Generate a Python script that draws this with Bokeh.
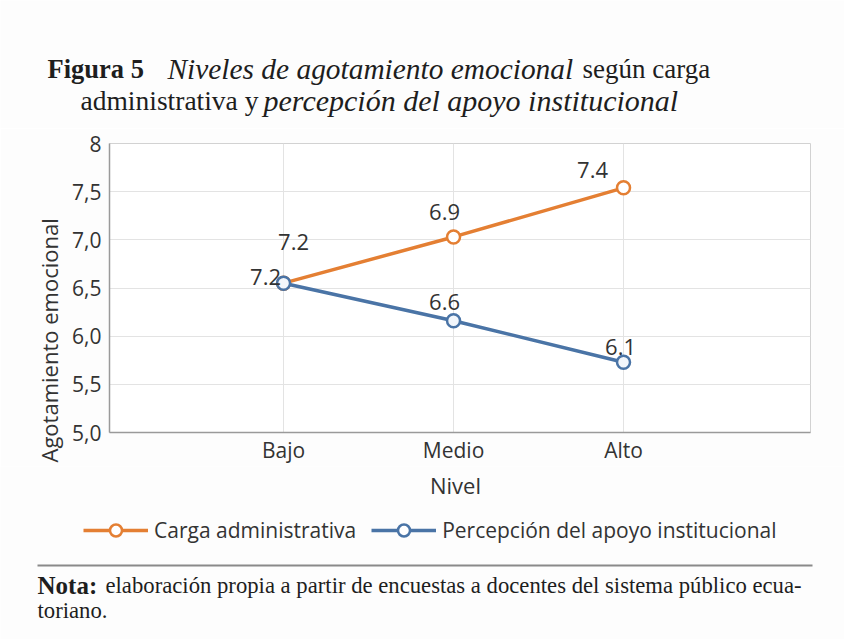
from bokeh.plotting import figure
from bokeh.layouts import column, row
from bokeh.models import (Range1d, FixedTicker, Label, LabelSet, ColumnDataSource,
                          Legend, LegendItem, BoxAnnotation, Title)
from bokeh.core.properties import value
from bokeh.embed import file_html
from bokeh.resources import INLINE

# ---------------- data ----------------
levels = ["Bajo", "Medio", "Alto"]
level_pos = [1, 2, 3]
carga = [6.55, 7.03, 7.54]
percepcion = [6.55, 6.16, 5.73]
carga_labels = ["7.2", "6.9", "7.4"]
percepcion_labels = ["7.2", "6.6", "6.1"]
y_ticks = [5.0, 5.5, 6.0, 6.5, 7.0, 7.5, 8.0]
y_tick_labels = ["5,0", "5,5", "6,0", "6,5", "7,0", "7,5", "8"]
series_names = ["Carga administrativa", "Percepción del apoyo institucional"]

# ---------------- styles / positions ----------------
ORANGE = "#e47f33"
BLUE = "#4a74a6"
TXT = "#333333"
PAGE = "#fdfdfd"
SANS = "Open Sans"
SERIF = "Liberation Serif"

carga_dx = [10, -9, -31]
carga_dy = [41, 25, 18]
perc_dx = [-18, -9, -3]
perc_dy = [6, 19, 15]

W = 844
H_HEAD, H_MID = 128, 338
H_FOOT = 639 - H_HEAD - H_MID
BASE_FIX = -8  # correction for alphabetic baseline placement


def blank(width, height, y0, y1):
    f = figure(width=width, height=height, x_range=Range1d(0, width),
               y_range=Range1d(y1, y0), output_backend="svg", toolbar_location=None,
               x_axis_location=None, y_axis_location=None,
               min_border=0, background_fill_color=PAGE, border_fill_color=PAGE)
    f.grid.visible = False
    f.outline_line_color = None
    return f


def lab(f, x, y, text, font=SERIF, size="27px", style="normal", align="left",
        baseline="alphabetic", color="#1e1e1e"):
    if baseline == "alphabetic":
        y = y + BASE_FIX
    f.add_layout(Label(x=x, y=y, text=text, text_font=font, text_font_size=size,
                       text_font_style=style, text_align=align, text_baseline=baseline,
                       text_color=color))


# ---------------- header (title) ----------------
head = blank(W, H_HEAD, 0, H_HEAD)
lab(head, 47, 76, "Figura 5", size="26.5px", style="bold")
lab(head, 167, 76, "Niveles de agotamiento emocional", size="29.4px", style="italic")
lab(head, 582, 76, "según carga", size="27px")
lab(head, 80, 108, "administrativa y", size="27.5px")
lab(head, 263, 108, "percepción del apoyo institucional", size="30px", style="italic")

# ---------------- main chart ----------------
p = figure(width=W, height=H_MID,
           x_range=Range1d(-0.024, 4.1), y_range=Range1d(5, 8),
           output_backend="svg", toolbar_location=None,
           min_border_left=109, min_border_right=W - 810,
           min_border_top=143 - H_HEAD, min_border_bottom=H_HEAD + H_MID - 432,
           background_fill_color="white", border_fill_color=PAGE)
p.outline_line_color = "#d2d2d2"
p.outline_line_width = 1

for ax in (p.xaxis, p.yaxis):
    ax.major_tick_line_color = None
    ax.minor_tick_line_color = None
    ax.axis_line_color = "#9a9a9a"
    ax.axis_line_width = 1.5
    ax.major_label_text_font = SANS
    ax.major_label_text_font_size = "21px"
    ax.major_label_text_color = TXT

p.xaxis.ticker = FixedTicker(ticks=level_pos)
p.xaxis.major_label_overrides = dict(zip(level_pos, levels))
p.xaxis.major_label_standoff = -3
p.yaxis.ticker = FixedTicker(ticks=y_ticks)
p.yaxis.major_label_overrides = dict(zip(y_ticks, y_tick_labels))
p.yaxis.major_label_standoff = 2

p.add_layout(Title(text="Agotamiento emocional", align="left", offset=-30,
                   vertical_align="middle", standoff=10,
                   text_font=SANS, text_font_size="22px", text_font_style="normal",
                   text_color=TXT), "left")

p.grid.grid_line_color = "#e3e3e3"
p.grid.grid_line_width = 1

src_c = ColumnDataSource(dict(x=level_pos, y=carga, t=carga_labels, dx=carga_dx, dy=carga_dy))
src_p = ColumnDataSource(dict(x=level_pos, y=percepcion, t=percepcion_labels, dx=perc_dx, dy=perc_dy))

line_kw = dict(line_width=3.5)
mark_kw = dict(marker="circle", size=13, line_width=2.5)

p.line("x", "y", source=src_c, line_color=ORANGE, **line_kw)
p.scatter("x", "y", source=src_c, fill_color="white", line_color=ORANGE, **mark_kw)
p.line("x", "y", source=src_p, line_color=BLUE, **line_kw)
p.scatter("x", "y", source=src_p, fill_color="#f2f6fb", line_color=BLUE, **mark_kw)

for src in (src_c, src_p):
    p.add_layout(LabelSet(x="x", y="y", text="t", source=src, x_offset="dx", y_offset="dy",
                          text_align="center", text_baseline="middle",
                          text_font=value(SANS), text_font_size=value("22px"),
                          text_color=TXT))

# ---------------- footer (x title, legend, note) ----------------
foot = blank(W, H_FOOT, H_HEAD + H_MID, 639)
lab(foot, 455, 484, "Nivel", font=SANS, size="22px", align="center", baseline="middle", color=TXT)

src_lc = ColumnDataSource(dict(x=level_pos, y=carga))
src_lp = ColumnDataSource(dict(x=level_pos, y=percepcion))
fl1 = foot.line("x", "y", source=src_lc, line_color=ORANGE, visible=False, **line_kw)
fs1 = foot.scatter("x", "y", source=src_lc, fill_color="white", line_color=ORANGE, visible=False, **mark_kw)
fl2 = foot.line("x", "y", source=src_lp, line_color=BLUE, visible=False, **line_kw)
fs2 = foot.scatter("x", "y", source=src_lp, fill_color="white", line_color=BLUE, visible=False, **mark_kw)

legend = Legend(items=[LegendItem(label=series_names[0], renderers=[fl1, fs1]),
                       LegendItem(label=series_names[1], renderers=[fl2, fs2])],
                location=(83, 94), orientation="horizontal",
                padding=0, margin=0, spacing=15, label_standoff=6,
                glyph_width=65, glyph_height=30, label_height=30,
                label_text_font=SANS, label_text_font_size="21px", label_text_color=TXT,
                background_fill_alpha=0, border_line_alpha=0)
foot.add_layout(legend)

foot.add_layout(BoxAnnotation(left=37, right=812, bottom=564, top=566,
                              fill_color="#8a8a8a", fill_alpha=1, line_alpha=0))

lab(foot, 37, 593, "Nota:", size="25px", style="bold")
lab(foot, 105, 593, "elaboración propia a partir de encuestas a docentes del sistema público ecua-",
    size="22.7px")
lab(foot, 37, 618, "toriano.", size="22.7px")

layout = column(head, row(p), foot)
open("out.html", "w").write(file_html(layout, INLINE))
